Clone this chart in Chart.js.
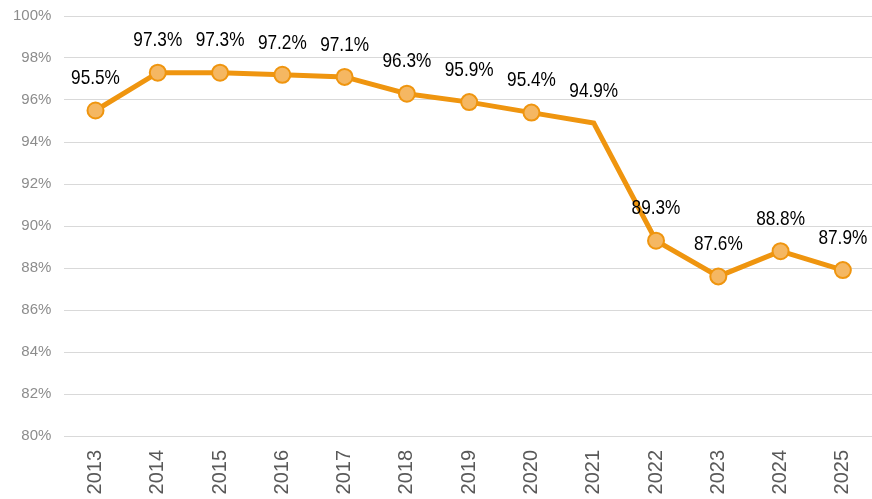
<!DOCTYPE html>
<html>
<head>
<meta charset="utf-8">
<script src="https://cdn.jsdelivr.net/npm/chart.js@4"></script>
<style>
  html, body { margin: 0; padding: 0; background: #fff; overflow: hidden; }
  #clip { width: 872px; height: 499px; overflow: hidden; }
  #wrap { width: 884px; height: 505px; margin-top: -6px; }
</style>
</head>
<body>
<div id="clip"><div id="wrap"><canvas id="rateChart"></canvas></div></div>
<script>
// Chart data
const years = ['2013', '2014', '2015', '2016', '2017', '2018', '2019', '2020', '2021', '2022', '2023', '2024', '2025'];
const rates = [95.5, 97.3, 97.3, 97.2, 97.1, 96.3, 95.9, 95.4, 94.9, 89.3, 87.6, 88.8, 87.9];
const hasMarker = [true, true, true, true, true, true, true, true, false, true, true, true, true];

const lineColor = '#EF950F';
const markerFill = '#F5B762';

// Draws the value labels above each point (narrow look: squeeze horizontally)
const valueLabels = {
    id: 'valueLabels',
    afterDatasetsDraw(chart) {
        const ctx = chart.ctx;
        const meta = chart.getDatasetMeta(0);
        const squeeze = 0.82;
        ctx.save();
        ctx.font = "21px 'Liberation Sans', Arial, sans-serif";
        ctx.fillStyle = '#000';
        ctx.textAlign = 'center';
        ctx.textBaseline = 'middle';
        meta.data.forEach((pt, i) => {
            ctx.save();
            ctx.translate(pt.x, pt.y - 32);
            ctx.scale(squeeze, 1);
            ctx.fillText(rates[i].toFixed(1) + '%', 0, 0);
            ctx.restore();
        });
        ctx.restore();
    }
};

Chart.defaults.font.family = "'Liberation Sans', Arial, sans-serif";

new Chart(document.getElementById('rateChart'), {
    type: 'line',
    data: {
        labels: years,
        datasets: [{
            data: rates,
            borderColor: lineColor,
            borderWidth: 5,
            pointRadius: hasMarker.map(m => m ? 8 : 0),
            pointHoverRadius: hasMarker.map(m => m ? 8 : 0),
            pointBackgroundColor: markerFill,
            pointBorderColor: lineColor,
            pointBorderWidth: 2,
            tension: 0
        }]
    },
    options: {
        responsive: true,
        maintainAspectRatio: false,
        animation: false,
        layout: { padding: { top: 0, right: 0, left: 0, bottom: 0 } },
        plugins: {
            legend: { display: false },
            tooltip: { enabled: false }
        },
        scales: {
            x: {
                offset: true,
                grid: { display: false, drawTicks: false },
                border: { display: false },
                afterFit: scale => { scale.height = 63; },
                ticks: {
                    color: '#595959',
                    font: { size: 20 },
                    minRotation: 90,
                    maxRotation: 90,
                    padding: 14
                }
            },
            y: {
                min: 80,
                max: 100,
                grid: { color: '#d9d9d9', lineWidth: 1, drawTicks: false },
                border: { display: false },
                ticks: {
                    stepSize: 2,
                    color: '#8c8c8c',
                    font: { size: 15 },
                    padding: 13,
                    callback: v => v + '%'
                }
            }
        }
    },
    plugins: [valueLabels]
});
</script>
</body>
</html>
